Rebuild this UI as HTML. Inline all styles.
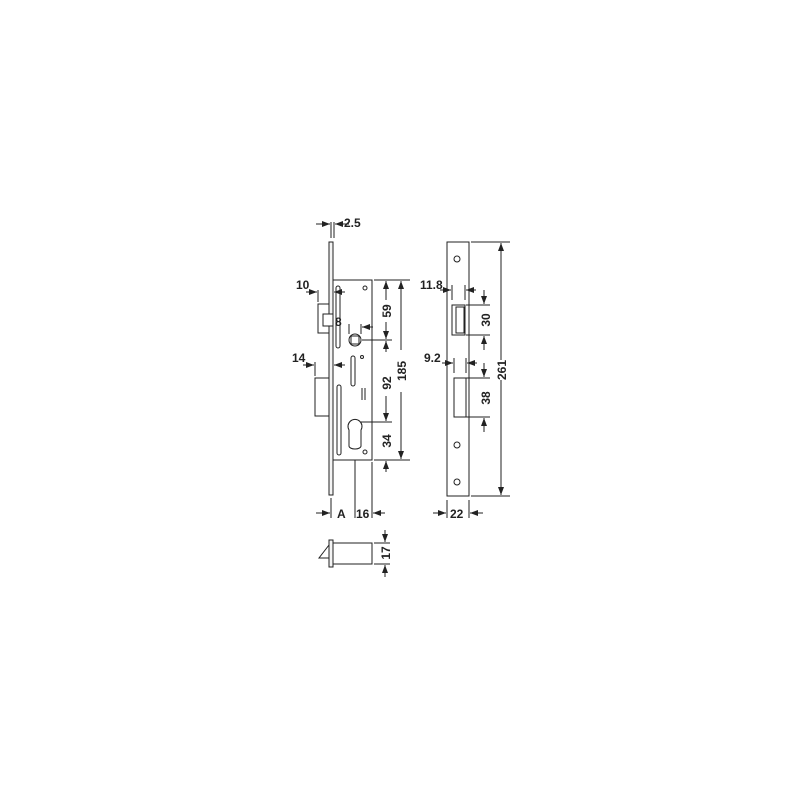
<!DOCTYPE html>
<html><head><style>html,body{margin:0;padding:0;background:#fff}svg{display:block}</style></head><body>
<svg width="800" height="800" viewBox="0 0 800 800" xmlns="http://www.w3.org/2000/svg" font-family="Liberation Sans, sans-serif" font-weight="bold" font-size="12" fill="none" stroke="#222" stroke-width="1">
<defs><marker id="a" markerWidth="8" markerHeight="6" refX="8" refY="3" orient="auto" markerUnits="userSpaceOnUse"><path d="M0,0 L8,3 L0,6z" fill="#222" stroke="none"/></marker></defs>
<rect x="329" y="242" width="4" height="253" fill="#f4f4f4"/>
<rect x="333" y="280" width="39" height="180" fill="#fff"/>
<rect x="318" y="304" width="11" height="29" fill="#fff"/>
<rect x="323" y="314" width="10" height="12" fill="#fff"/>
<rect x="315" y="378" width="14" height="38" fill="#fff"/>
<rect x="336" y="286" width="4" height="62" rx="2"/>
<rect x="351" y="356" width="4" height="30" rx="2"/>
<rect x="337" y="385" width="4" height="70" rx="2"/>
<circle cx="355" cy="340" r="6"/><rect x="351" y="336" width="8" height="8"/>
<circle cx="362" cy="357" r="1.5"/>
<line x1="362" y1="388" x2="362" y2="400"/><line x1="365" y1="388" x2="365" y2="400"/>
<path d="M349,430 a7,7 0 1 1 12,0 l0,16 a6,3 0 0 1 -12,0z"/>
<circle cx="365" cy="288" r="2"/><circle cx="365" cy="452" r="2"/>
<line x1="331" y1="222" x2="331" y2="238"/><line x1="334" y1="222" x2="334" y2="238"/>
<line x1="316" y1="224" x2="330" y2="224" marker-end="url(#a)"/><line x1="349" y1="224" x2="335" y2="224" marker-end="url(#a)"/>
<text x="344" y="227" fill="#222" stroke="none">2.5</text>
<line x1="318" y1="290" x2="318" y2="302"/><line x1="306" y1="292" x2="317" y2="292" marker-end="url(#a)"/><line x1="345" y1="292" x2="334" y2="292" marker-end="url(#a)"/>
<text x="296" y="289" fill="#222" stroke="none">10</text>
<line x1="315" y1="362" x2="315" y2="376"/><line x1="303" y1="365" x2="314" y2="365" marker-end="url(#a)"/><line x1="345" y1="365" x2="334" y2="365" marker-end="url(#a)"/>
<text x="292" y="362" fill="#222" stroke="none">14</text>
<text x="335" y="326" fill="#222" stroke="none">8</text>
<line x1="349" y1="324" x2="349" y2="334"/><line x1="361" y1="324" x2="361" y2="334"/><line x1="373" y1="327" x2="362" y2="327" marker-end="url(#a)"/>
<line x1="374" y1="280" x2="410" y2="280"/><line x1="362" y1="340" x2="392" y2="340"/><line x1="361" y1="422" x2="392" y2="422"/><line x1="374" y1="460" x2="410" y2="460"/>
<line x1="386" y1="300" x2="386" y2="281" marker-end="url(#a)"/><line x1="386" y1="322" x2="386" y2="339" marker-end="url(#a)"/>
<line x1="386" y1="352" x2="386" y2="341" marker-end="url(#a)"/><line x1="386" y1="396" x2="386" y2="421" marker-end="url(#a)"/>
<line x1="386" y1="472" x2="386" y2="461" marker-end="url(#a)"/>
<line x1="401" y1="350" x2="401" y2="281" marker-end="url(#a)"/><line x1="401" y1="392" x2="401" y2="459" marker-end="url(#a)"/>
<g fill="#222" stroke="none">
<text transform="translate(391,311) rotate(-90)" text-anchor="middle">59</text>
<text transform="translate(391,383) rotate(-90)" text-anchor="middle">92</text>
<text transform="translate(391,441) rotate(-90)" text-anchor="middle">34</text>
<text transform="translate(406,371) rotate(-90)" text-anchor="middle">185</text>
<text x="337" y="518">A</text><text x="356" y="518">16</text>
</g>
<line x1="355" y1="460" x2="355" y2="518"/><line x1="372" y1="462" x2="372" y2="518"/><line x1="331" y1="498" x2="331" y2="518"/>
<line x1="316" y1="513" x2="330" y2="513" marker-end="url(#a)"/><line x1="385" y1="513" x2="373" y2="513" marker-end="url(#a)"/>
<rect x="330" y="543" width="42" height="21" fill="#fff"/>
<rect x="329" y="540" width="4" height="27" fill="#f4f4f4"/>
<path d="M329,545 L319,558 L329,558"/>
<line x1="374" y1="543" x2="390" y2="543"/><line x1="374" y1="564" x2="390" y2="564"/>
<line x1="385" y1="530" x2="385" y2="542" marker-end="url(#a)"/><line x1="385" y1="577" x2="385" y2="565" marker-end="url(#a)"/>
<text transform="translate(390,553) rotate(-90)" text-anchor="middle" fill="#222" stroke="none">17</text>
<rect x="447" y="242" width="22" height="254" fill="#fff"/>
<rect x="452" y="305" width="13" height="30" fill="#fff"/><rect x="456" y="307" width="8" height="26"/>
<rect x="454" y="378" width="12" height="39" fill="#fff"/>
<g><circle cx="457" cy="259" r="3"/><circle cx="457" cy="445" r="3"/><circle cx="457" cy="482" r="3"/></g>
<line x1="471" y1="242" x2="510" y2="242"/><line x1="471" y1="496" x2="510" y2="496"/>
<line x1="501" y1="360" x2="501" y2="243" marker-end="url(#a)"/><line x1="501" y1="380" x2="501" y2="495" marker-end="url(#a)"/>
<line x1="466" y1="305" x2="490" y2="305"/><line x1="466" y1="335" x2="490" y2="335"/>
<line x1="484" y1="290" x2="484" y2="304" marker-end="url(#a)"/><line x1="484" y1="350" x2="484" y2="336" marker-end="url(#a)"/>
<line x1="466" y1="378" x2="490" y2="378"/><line x1="466" y1="417" x2="490" y2="417"/>
<line x1="484" y1="363" x2="484" y2="377" marker-end="url(#a)"/><line x1="484" y1="432" x2="484" y2="418" marker-end="url(#a)"/>
<line x1="452" y1="285" x2="452" y2="300"/><line x1="465" y1="285" x2="465" y2="300"/>
<line x1="440" y1="290" x2="451" y2="290" marker-end="url(#a)"/><line x1="476" y1="290" x2="466" y2="290" marker-end="url(#a)"/>
<line x1="454" y1="358" x2="454" y2="373"/><line x1="466" y1="358" x2="466" y2="373"/>
<line x1="442" y1="363" x2="453" y2="363" marker-end="url(#a)"/><line x1="477" y1="363" x2="467" y2="363" marker-end="url(#a)"/>
<line x1="447" y1="500" x2="447" y2="518"/><line x1="469" y1="500" x2="469" y2="518"/>
<line x1="433" y1="513" x2="446" y2="513" marker-end="url(#a)"/><line x1="483" y1="513" x2="470" y2="513" marker-end="url(#a)"/>
<g fill="#222" stroke="none">
<text x="420" y="289">11.8</text><text x="424" y="362">9.2</text>
<text transform="translate(490,320) rotate(-90)" text-anchor="middle">30</text>
<text transform="translate(490,398) rotate(-90)" text-anchor="middle">38</text>
<text transform="translate(506,370) rotate(-90)" text-anchor="middle">261</text>
<text x="450" y="518">22</text>
</g>
</svg>
</body></html>
